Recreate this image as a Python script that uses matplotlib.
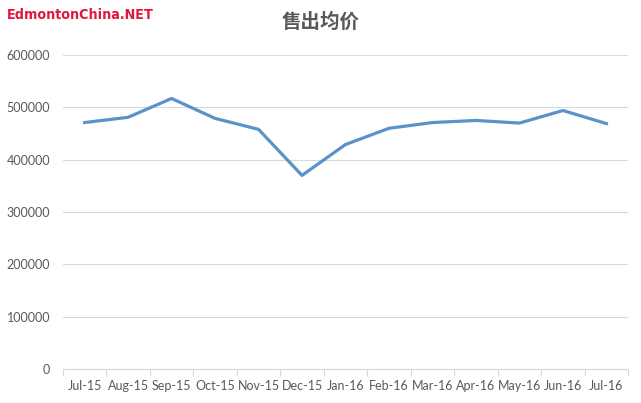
import numpy as np
import matplotlib.pyplot as plt
from matplotlib import font_manager

# data
months = ['Jul-15', 'Aug-15', 'Sep-15', 'Oct-15', 'Nov-15', 'Dec-15', 'Jan-16',
          'Feb-16', 'Mar-16', 'Apr-16', 'May-16', 'Jun-16', 'Jul-16']
avg_price = [471000, 481000, 517000, 479000, 458000, 370000, 429000,
             460000, 471000, 475000, 470000, 494000, 469000]
y_ticks = [0, 100000, 200000, 300000, 400000, 500000, 600000]

GRID = '#D9D9D9'
TXT = '#595959'
LINE = '#5B92C9'

# look for a narrow bold font for the watermark
wm_prop = None
for f in font_manager.findSystemFonts():
    base = f.split('/')[-1]
    if base in ('DejaVuSansCondensed-Bold.ttf', 'LiberationSansNarrow-Bold.ttf'):
        wm_prop = font_manager.FontProperties(fname=f, size=10.3)
        break
if wm_prop is None:
    wm_prop = font_manager.FontProperties(family='DejaVu Sans', weight='bold', size=9)

fig = plt.figure(figsize=(6.41, 4.03), dpi=100)
ax = fig.add_axes([0.098, 0.0844, 0.882, 0.779])

x = np.arange(len(months))
ax.plot(x, avg_price, color=LINE, linewidth=2.3, solid_joinstyle='round')

ax.set_xlim(-0.5, len(months) - 0.5)
ax.set_ylim(0, 600000)
ax.set_yticks(y_ticks)
ax.set_yticklabels([str(v) for v in y_ticks], fontsize=9, color=TXT, family='Lato')
ax.set_xticks(x)
ax.set_xticklabels(months, fontsize=9, color=TXT, family='Lato')
ax.set_xticks(np.arange(-0.5, len(months)), minor=True)
ax.tick_params(axis='x', which='major', length=0, pad=8)
ax.tick_params(axis='x', which='minor', length=5, color=GRID, width=0.8)
ax.tick_params(axis='y', length=0, pad=9)

ax.grid(axis='y', color=GRID, linewidth=0.8)
ax.set_axisbelow(True)
for s in ['top', 'right', 'left']:
    ax.spines[s].set_visible(False)
ax.spines['bottom'].set_color(GRID)
ax.spines['bottom'].set_linewidth(0.8)

fig.text(0.5, 0.945, '售出均价', ha='center', va='center', fontsize=14,
         color=TXT, family=['Noto Sans CJK SC', 'DejaVu Sans'], fontweight='bold')
fig.text(0.01, 0.962, 'EdmontonChina.NET', ha='left', va='center',
         color='#E2173D', fontproperties=wm_prop)

fig.savefig('out.png', dpi=100)
